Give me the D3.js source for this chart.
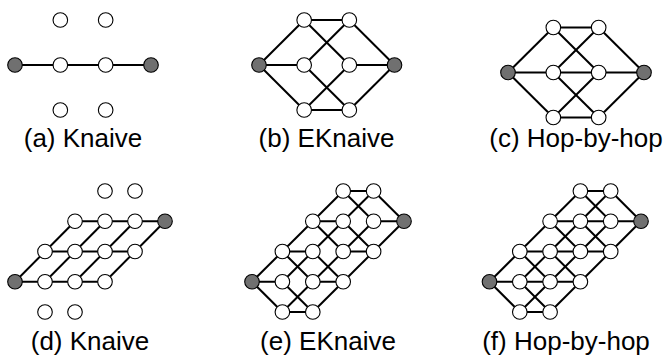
<!DOCTYPE html>
<html>
<head>
<meta charset="utf-8">
<script src="https://cdn.jsdelivr.net/npm/d3@7"></script>
<style>
  html, body { margin: 0; padding: 0; background: #fff; }
  svg { display: block; }
</style>
</head>
<body>
<script>
// ---- Single-route graphs (a)-(c): each node is [hop, lane]; lane 0 is the primary route
const pathNodes = [[0, 0], [1, 1], [1, 0], [1, -1], [2, 1], [2, 0], [2, -1], [3, 0]];
const pathTerminals = [[0, 0], [3, 0]];
const pathEdgesKnaive = [
  [[0, 0], [1, 0]], [[1, 0], [2, 0]], [[2, 0], [3, 0]]
];
const pathEdgesEKnaive = [
  [[0, 0], [1, 1]], [[0, 0], [1, 0]], [[0, 0], [1, -1]],
  [[1, 1], [2, 1]], [[1, 1], [2, 0]], [[1, 0], [2, 1]],
  [[1, 0], [2, -1]], [[1, -1], [2, 0]], [[1, -1], [2, -1]],
  [[2, 1], [3, 0]], [[2, 0], [3, 0]], [[2, -1], [3, 0]]
];
const pathEdgesHopByHop = pathEdgesEKnaive.concat([[[1, 0], [2, 0]]]);

// ---- Lattice graphs (d)-(f): each node is [hop, row]
const gridNodes = [
  [0, 0],
  [1, -1], [1, 0], [1, 1],
  [2, -1], [2, 0], [2, 1], [2, 2],
  [3, 0], [3, 1], [3, 2], [3, 3],
  [4, 1], [4, 2], [4, 3],
  [5, 2]
];
const gridTerminals = [[0, 0], [5, 2]];
const gridEdgesKnaive = [
  [[0, 0], [1, 0]], [[0, 0], [1, 1]],
  [[1, 0], [2, 0]], [[1, 0], [2, 1]], [[1, 1], [2, 1]], [[1, 1], [2, 2]],
  [[2, 0], [3, 0]], [[2, 0], [3, 1]], [[2, 1], [3, 1]], [[2, 1], [3, 2]], [[2, 2], [3, 2]],
  [[3, 0], [4, 1]], [[3, 1], [4, 1]], [[3, 1], [4, 2]], [[3, 2], [4, 2]],
  [[4, 1], [5, 2]], [[4, 2], [5, 2]]
];
const gridEdgesEKnaive = [
  [[0, 0], [1, -1]], [[0, 0], [1, 0]], [[0, 0], [1, 1]],
  [[1, -1], [2, -1]], [[1, -1], [2, 0]], [[1, 0], [2, -1]], [[1, 0], [2, 1]],
  [[1, 1], [2, 0]], [[1, 1], [2, 1]], [[1, 1], [2, 2]],
  [[2, -1], [3, 0]], [[2, 0], [3, 0]], [[2, 0], [3, 1]], [[2, 1], [3, 0]], [[2, 1], [3, 2]],
  [[2, 2], [3, 1]], [[2, 2], [3, 2]], [[2, 2], [3, 3]],
  [[3, 0], [4, 1]], [[3, 1], [4, 1]], [[3, 1], [4, 2]], [[3, 2], [4, 1]], [[3, 2], [4, 3]],
  [[3, 3], [4, 2]], [[3, 3], [4, 3]],
  [[4, 1], [5, 2]], [[4, 2], [5, 2]], [[4, 3], [5, 2]]
];
const gridEdgesHopByHop = gridEdgesEKnaive.concat([
  [[1, 0], [2, 0]], [[2, 1], [3, 1]], [[3, 2], [4, 2]]
]);

const panelLabels = ["(a) Knaive", "(b) EKnaive", "(c) Hop-by-hop",
                     "(d) Knaive", "(e) EKnaive", "(f) Hop-by-hop"];

// ---- layout of each panel (pixel frames for the scales)
const panels = [
  { label: panelLabels[0], nodes: pathNodes, ends: pathTerminals, edges: pathEdgesKnaive,
    xd: [0, 3], xr: [15, 151], yd: [-1, 1], yr: [110, 20], lx: 83, ly: 147 },
  { label: panelLabels[1], nodes: pathNodes, ends: pathTerminals, edges: pathEdgesEKnaive,
    xd: [0, 3], xr: [259, 394.5], yd: [-1, 1], yr: [110, 20], lx: 326.5, ly: 147 },
  { label: panelLabels[2], nodes: pathNodes, ends: pathTerminals, edges: pathEdgesHopByHop,
    xd: [0, 3], xr: [508, 644], yd: [-1, 1], yr: [117.5, 27.5], lx: 576, ly: 147 },
  { label: panelLabels[3], nodes: gridNodes, ends: gridTerminals, edges: gridEdgesKnaive,
    xd: [0, 5], xr: [15, 165], yd: [-1, 3], yr: [312, 191], lx: 90, ly: 350 },
  { label: panelLabels[4], nodes: gridNodes, ends: gridTerminals, edges: gridEdgesEKnaive,
    xd: [0, 5], xr: [252, 404], yd: [-1, 3], yr: [312, 191], lx: 328, ly: 350 },
  { label: panelLabels[5], nodes: gridNodes, ends: gridTerminals, edges: gridEdgesHopByHop,
    xd: [0, 5], xr: [489.5, 641], yd: [-1, 3], yr: [312, 191], lx: 566, ly: 350 }
];

const W = 665, H = 356;
const svg = d3.select("body").append("svg")
  .attr("width", W).attr("height", H)
  .attr("viewBox", `0 0 ${W} ${H}`);

const isEnd = (n, ends) => ends.some(e => e[0] === n[0] && e[1] === n[1]);

panels.forEach(p => {
  const x = d3.scaleLinear().domain(p.xd).range(p.xr);
  const y = d3.scaleLinear().domain(p.yd).range(p.yr);
  const g = svg.append("g");

  g.selectAll("line.edge")
    .data(p.edges)
    .join("line")
    .attr("class", "edge")
    .attr("x1", d => x(d[0][0])).attr("y1", d => y(d[0][1]))
    .attr("x2", d => x(d[1][0])).attr("y2", d => y(d[1][1]))
    .attr("stroke", "#000")
    .attr("stroke-width", 2);

  g.selectAll("circle.node")
    .data(p.nodes)
    .join("circle")
    .attr("class", "node")
    .attr("cx", d => x(d[0])).attr("cy", d => y(d[1]))
    .attr("r", 7.3)
    .attr("fill", d => isEnd(d, p.ends) ? "#707070" : "#fff")
    .attr("stroke", "#000")
    .attr("stroke-width", 1.1);

  g.append("text")
    .attr("x", p.lx).attr("y", p.ly)
    .attr("text-anchor", "middle")
    .attr("font-family", "'Liberation Sans', Arial, Helvetica, sans-serif")
    .attr("font-size", 26)
    .attr("fill", "#000")
    .text(p.label);
});
</script>
</body>
</html>
